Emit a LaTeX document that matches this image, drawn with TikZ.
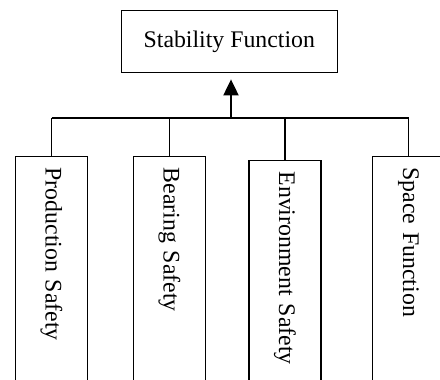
\documentclass[tikz,border=0pt]{standalone}
\usepackage{fontspec}
\setmainfont{Liberation Serif}
\usetikzlibrary{arrows.meta}
\tikzstyle{arrow} = [-{Triangle[length=16pt,width=15pt]},line width=2pt]
\tikzstyle{box} = [draw,line width=1.2pt,inner sep=0pt,font=\fontsize{23.8}{28}\selectfont]
\tikzstyle{branch} = [box,rotate=-90,anchor=west,minimum height=72pt,text width=224pt,inner xsep=11pt,align=left]

\begin{document}
\begin{tikzpicture}[x=1pt,y=-1pt]
      \useasboundingbox (0,0) rectangle (440,380);
      \clip (0,0) rectangle (440,380);

      \node[box, minimum width=216pt, minimum height=62pt] (stab) at (229.3,41.8) {Stability Function};

      \node[branch] (prod) at (51.5,156) {Production Safety};
      \node[branch] (bear) at (169.5,156) {Bearing Safety};
      \node[branch] (env) at (285,160) {Environment Safety};
      \node[branch] (space) at (408.5,156) {Space Function};

      \coordinate (bus) at (231,118);

      \draw[line width=1.2pt] (prod.west |- bus) -- (space.west |- bus);
      \draw[line width=1.2pt] (prod.west) -- (prod.west |- bus);
      \draw[line width=1.2pt] (bear.west) -- (bear.west |- bus);
      \draw[line width=1.2pt] (env.west) -- (env.west |- bus);
      \draw[line width=1.2pt] (space.west) -- (space.west |- bus);
      \draw[arrow, shorten >=6pt] (bus) -- (bus |- stab.south);
    \end{tikzpicture}
\end{document}
